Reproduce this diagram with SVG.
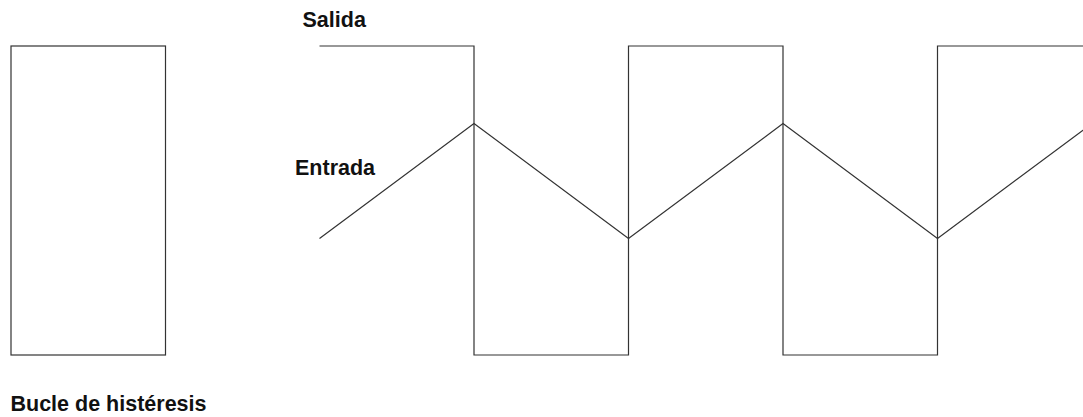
<svg xmlns="http://www.w3.org/2000/svg" width="1083" height="417" viewBox="0 0 1083 417">
<style>
.ln{fill:none;stroke:#333;stroke-width:1.2}
.lb{font-family:"Liberation Sans",Arial,sans-serif;font-weight:bold;font-size:21.5px;fill:#111}
</style>
<rect width="1083" height="417" fill="#fff"/>
<g id="loop"><rect class="ln" x="11" y="46" width="154.5" height="309"/></g>
<g id="connectors">
<polyline id="salida-wave" class="ln" points="319.5,46 474,46 474,355 628.5,355 628.5,46 783,46 783,355 937.5,355 937.5,46 1083,46"/>
<polyline id="entrada-wave" class="ln" points="319.5,238.5 474,123.5 628.5,238.5 783,123.5 937.5,238.5 1092,123.5"/>
</g>
<g id="label-salida"><text class="lb" x="302.5" y="26.7">Salida</text></g>
<g id="label-entrada"><text class="lb" x="295" y="175">Entrada</text></g>
<g id="label-bucle"><text class="lb" x="10.5" y="410.5">Bucle de histéresis</text></g>
</svg>
